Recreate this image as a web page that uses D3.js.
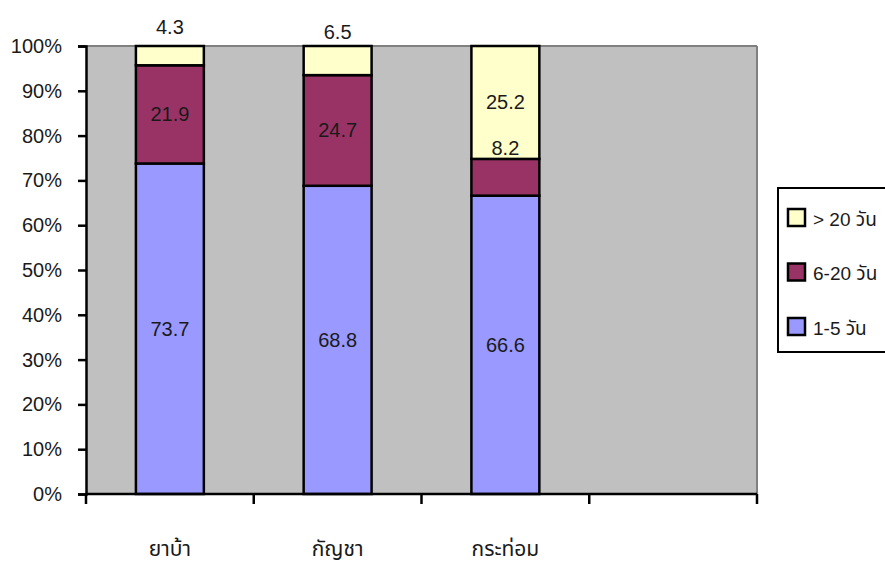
<!doctype html>
<html lang="th">
<head>
<meta charset="utf-8">
<title>chart</title>
<script src="https://d3js.org/d3.v7.min.js"></script>
<style>
  body { margin: 0; background: #fff; }
  svg { display: block; }
  svg text { font-family: "Liberation Sans", "Noto Sans Thai", Arial, sans-serif; fill: #1a1a1a; }
</style>
</head>
<body>
<svg></svg>
<script>
var categories = ["ยาบ้า", "กัญชา", "กระท่อม", ""];
var seriesNames = ["1-5 วัน", "6-20 วัน", "> 20 วัน"];
var shortDays = [73.7, 68.8, 66.6];
var midDays = [21.9, 24.7, 8.2];
var longDays = [4.3, 6.5, 25.2];
var yTicks = [0, 0.1, 0.2, 0.3, 0.4, 0.5, 0.6, 0.7, 0.8, 0.9, 1];

var colors = ["#9999FF", "#993366", "#FFFFCC"];

var W = 885, H = 561;
var mLeft = 86, mRight = 757, mTop = 46, mBottom = 494;

var svg = d3.select("svg").attr("width", W).attr("height", H);

var rows = shortDays.map(function(d, i) {
  return { cat: categories[i], s0: d, s1: midDays[i], s2: longDays[i] };
});

var x = d3.scaleBand().domain(categories).range([mLeft, mRight]).paddingInner(0).paddingOuter(0);
var y = d3.scaleLinear().domain([0, 1]).range([mBottom, mTop]);

// plot area
svg.append("rect")
  .attr("x", mLeft).attr("y", mTop)
  .attr("width", mRight - mLeft).attr("height", mBottom - mTop)
  .attr("fill", "#C0C0C0");
svg.append("line")
  .attr("x1", mLeft).attr("x2", mRight).attr("y1", mTop).attr("y2", mTop)
  .attr("stroke", "#808080").attr("stroke-width", 2);
svg.append("line")
  .attr("x1", mRight).attr("x2", mRight).attr("y1", mTop).attr("y2", mBottom)
  .attr("stroke", "#808080").attr("stroke-width", 2);

// stacked & normalized
var stack = d3.stack().keys(["s0", "s1", "s2"]).offset(d3.stackOffsetExpand);
var layers = stack(rows);

var barW = x.bandwidth() * 0.405;

var g = svg.selectAll(".layer").data(layers).enter().append("g")
  .attr("class", "layer")
  .attr("fill", function(d, i) { return colors[i]; });

g.selectAll("rect").data(function(d) { return d; }).enter()
  .append("rect")
  .attr("x", function(d) { return x(d.data.cat) + (x.bandwidth() - barW) / 2; })
  .attr("y", function(d) { return y(d[1]); })
  .attr("width", barW)
  .attr("height", function(d) { return y(d[0]) - y(d[1]); })
  .attr("stroke", "#000").attr("stroke-width", 2.5);

// value labels (small segments get their label lifted, as in the original)
layers.forEach(function(layer) {
  svg.append("g").selectAll("text").data(layer).enter()
    .append("text")
    .attr("x", function(d) { return x(d.data.cat) + x.bandwidth() / 2; })
    .attr("y", function(d) {
      var c = (y(d[0]) + y(d[1])) / 2;
      var v = d.data[layer.key];
      return (v < 10 ? c - 29 : c);
    })
    .attr("dy", "0.35em")
    .attr("text-anchor", "middle")
    .attr("font-size", 20)
    .text(function(d) { return d.data[layer.key]; });
});

// y axis
var yAxis = svg.append("g")
  .attr("transform", "translate(" + mLeft + ",0)")
  .call(d3.axisLeft(y).tickValues(yTicks).tickFormat(d3.format(".0%")).tickSize(8).tickPadding(16));
yAxis.select(".domain").attr("stroke", "#000").attr("stroke-width", 2.5);
yAxis.selectAll(".tick line").attr("stroke", "#000").attr("stroke-width", 2.5);
yAxis.selectAll(".tick text").attr("font-size", 20).attr("fill", "#1a1a1a")
  .style("font-family", "'Liberation Sans', Arial, sans-serif");

// x axis
var xAxis = svg.append("g")
  .attr("transform", "translate(0," + mBottom + ")");
xAxis.append("line")
  .attr("x1", mLeft).attr("x2", mRight).attr("y1", 0).attr("y2", 0)
  .attr("stroke", "#000").attr("stroke-width", 2.5);
var edges = categories.map(function(c) { return x(c); }).concat([mRight]);
xAxis.selectAll(".xt").data(edges).enter().append("line")
  .attr("x1", function(d) { return d; }).attr("x2", function(d) { return d; })
  .attr("y1", 0).attr("y2", 10)
  .attr("stroke", "#000").attr("stroke-width", 2.5);
xAxis.selectAll(".xl").data(categories).enter().append("text")
  .attr("x", function(d) { return x(d) + x.bandwidth() / 2; })
  .attr("y", 62)
  .attr("text-anchor", "middle")
  .attr("font-size", 21)
  .text(function(d) { return d; });

// legend
var legend = svg.append("g").attr("transform", "translate(778,188)");
legend.append("rect")
  .attr("x", 0).attr("y", 0).attr("width", 130).attr("height", 164)
  .attr("fill", "#fff").attr("stroke", "#000").attr("stroke-width", 2);
var order = [2, 1, 0];
var items = legend.selectAll(".item").data(order).enter().append("g")
  .attr("transform", function(d, i) { return "translate(10," + (30 + i * 54.5) + ")"; });
items.append("rect")
  .attr("x", 0).attr("y", -9).attr("width", 17).attr("height", 17)
  .attr("fill", function(d) { return colors[d]; })
  .attr("stroke", "#000").attr("stroke-width", 2.5);
items.append("text")
  .attr("x", 25).attr("y", 1).attr("dy", "0.35em")
  .attr("font-size", 19)
  .text(function(d) { return seriesNames[d]; });
</script>
</body>
</html>
